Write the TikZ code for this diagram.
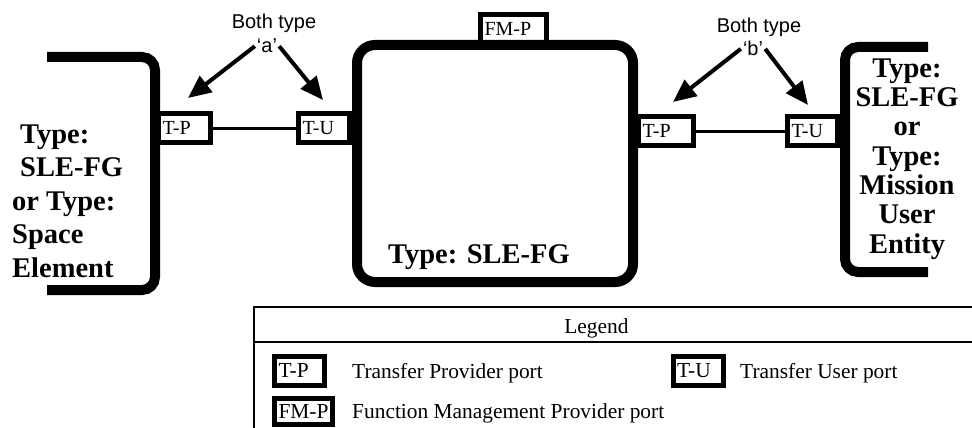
\documentclass[tikz,border=0pt]{standalone}
\usepackage{fontspec}
\setmainfont{Liberation Serif}
\newfontfamily\helv{Liberation Sans}
\usetikzlibrary{arrows.meta}
\tikzset{
  wall/.style={line width=10pt},
  port/.style={draw, line width=5pt, fill=white, inner xsep=4pt, inner ysep=0pt,
    minimum height=29pt, text width=#1, text height=13pt, text depth=0pt, align=left,
    font=\fontsize{20}{22}\selectfont},
  port/.default=42pt,
  keyport/.style={port=#1, font=\fontsize{21.4}{24}\selectfont},
  keyport/.default=42pt,
  link/.style={line width=3pt},
  pointer/.style={line width=4pt, -{Triangle[length=23pt,width=20pt]}},
  note/.style={font=\helv\fontsize{20}{24}\selectfont, inner sep=2pt, anchor=base},
  kind/.style={font=\bfseries\fontsize{28.5}{#1}\selectfont, inner sep=0pt},
  kind/.default=33.5pt,
  keytext/.style={font=\fontsize{21.4}{24}\selectfont, inner sep=0pt, anchor=base west},
}
\begin{document}
\begin{tikzpicture}[x=1pt,y=-1pt]
\useasboundingbox (0,0) rectangle (972,428);
\clip (0,0) rectangle (972,428);
\draw[wall, rounded corners=13pt] (47,57) -- (155,57) -- (155,290) -- (47,290);
\draw[wall, rounded corners=13pt] (928,47) -- (845,47) -- (845,272) -- (928,272);
\node[port=58pt] (fmp) at (513.5,29) {FM-P};
\node[draw, wall, rounded corners=18pt, minimum width=276pt, minimum height=237pt] (fg) at (495,163.5) {};
\node[port=44pt] (ltp) at (184.5,128) {T-P};
\node[port=43pt] (ltu) at (324,128) {T-U};
\node[port=47pt] (rtp) at (666,131) {T-P};
\node[port] (rtu) at (812.5,131) {T-U};
\draw[link] (ltp) -- (ltu);
\draw[link] (rtp) -- (rtu);
\node[kind, anchor=base west] (fgname) at (388,263) {Type: SLE-FG};
\node[kind, align=left, anchor=base west] (leftname) at (12,277)
  {\hspace*{8pt}Type:\\\hspace*{8pt}SLE-FG\\or Type:\\Space\\Element};
\node[kind=29.3pt, align=center, anchor=base] (rightname) at (907,253)
  {Type:\\SLE-FG\\or\\Type:\\Mission\\User\\Entity};
\node[note] (botha) at (274,29) {Both type};
\node[note] (qa) at (267,53) {‘a’};
\node[note] (bothb) at (759,33) {Both type};
\node[note] (qb) at (753,56) {‘b’};
\coordinate (tipa1) at (188,98);
\coordinate (tipa2) at (323,100);
\coordinate (tipb1) at (673,102);
\coordinate (tipb2) at (808,105);
\draw[pointer] (qa.west) -- (tipa1);
\draw[pointer] (qa.east) -- (tipa2);
\draw[pointer] (qb.west) -- (tipb1);
\draw[pointer] (qb.east) -- (tipb2);
\draw[line width=1.5pt] (254,307) rectangle (990,440);
\draw[line width=1.5pt] (254,342) -- (990,342);
\node[keytext, anchor=base] (legend) at (596.5,333) {Legend};
\node[keyport] (ktp) at (299.5,371) {T-P};
\node[keytext] (ktptext) at (352,378) {Transfer Provider port};
\node[keyport] (ktu) at (698,371) {T-U};
\node[keytext] (ktutext) at (740,378) {Transfer User port};
\node[keyport=50pt, minimum height=26pt] (kfmp) at (303.5,411.5) {FM-P};
\node[keytext] (kfmptext) at (352,418) {Function Management Provider port};
\end{tikzpicture}
\end{document}
